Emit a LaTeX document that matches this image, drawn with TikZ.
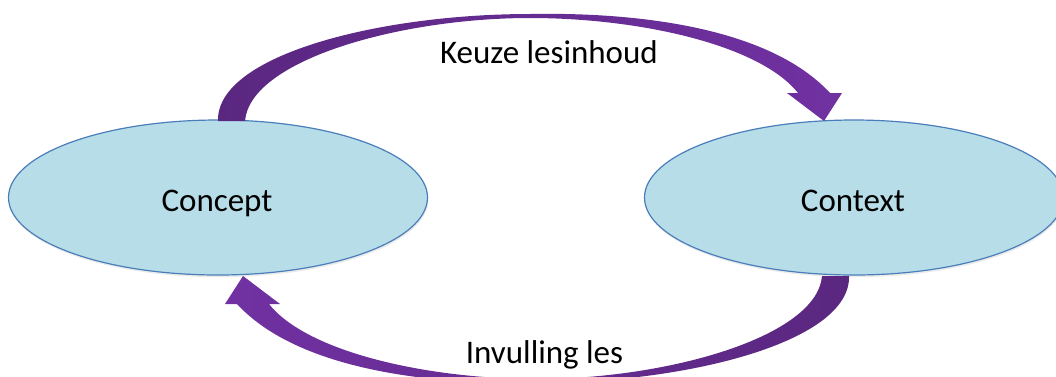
\documentclass[tikz,border=0pt]{standalone}
\usepackage{fontspec}
\setmainfont{Carlito}
\usetikzlibrary{shapes.geometric,shadows}
\definecolor{ovalfill}{HTML}{B7DDE8}
\definecolor{ovalline}{HTML}{4A7EBB}
\definecolor{arrowdark}{HTML}{5A2780}
\definecolor{arrowlight}{HTML}{7131A2}
\begin{document}
\begin{tikzpicture}[x=1pt,y=-1pt,
  oval/.style={ellipse, draw=ovalline, line width=1.2pt, fill=ovalfill,
    minimum width=419pt, minimum height=155pt, inner sep=0pt,
    drop shadow={opacity=0.16, shadow xshift=0.8pt, shadow yshift=-2.2pt}},
  lbl/.style={font=\fontsize{33}{40}\selectfont, text=black, anchor=base, inner sep=0pt},
  bandshadow/.style={drop shadow={opacity=0.15, shadow xshift=0.8pt, shadow yshift=-1.6pt}},
  % curved band arrow: thick tail on the left, thin crown, head on the right
  bentarrow/.pic={
    \path[pic actions]
      (218,121) .. controls (216,55) and (380,14) .. (530,14)
      .. controls (640,12) and (770,28) .. (830,93)
      -- (842,93) -- (824,121) -- (787,93) -- (798,93)
      .. controls (760,45) and (640,18) .. (530,18)
      .. controls (400,18) and (250,60) .. (245,121) -- cycle;
  }
]
\useasboundingbox (0,0) rectangle (1056,376);
\clip (0,0) rectangle (1056,376);

% the two ovals
\node[oval] (concept) at (218,197.5) {};
\node[oval] (context) at (854,197.5) {};
\node[lbl] (conceptlbl) at (217,211) {Concept};
\node[lbl] (contextlbl) at (853,211) {Context};

% the two curved arrows, the lower one is the upper one turned half a turn;
% in both the tail is the darker end
\pic[left color=arrowdark, right color=arrowlight, bandshadow]
  (toparrow) at (0,0) {bentarrow};
\pic[rotate=180, left color=arrowlight, right color=arrowdark, bandshadow]
  (bottomarrow) at (1067,397) {bentarrow};

% arrow captions
\node[lbl] (keuze) at (549,63) {Keuze lesinhoud};
\node[lbl] (invulling) at (544.5,363) {Invulling les};
\end{tikzpicture}
\end{document}
